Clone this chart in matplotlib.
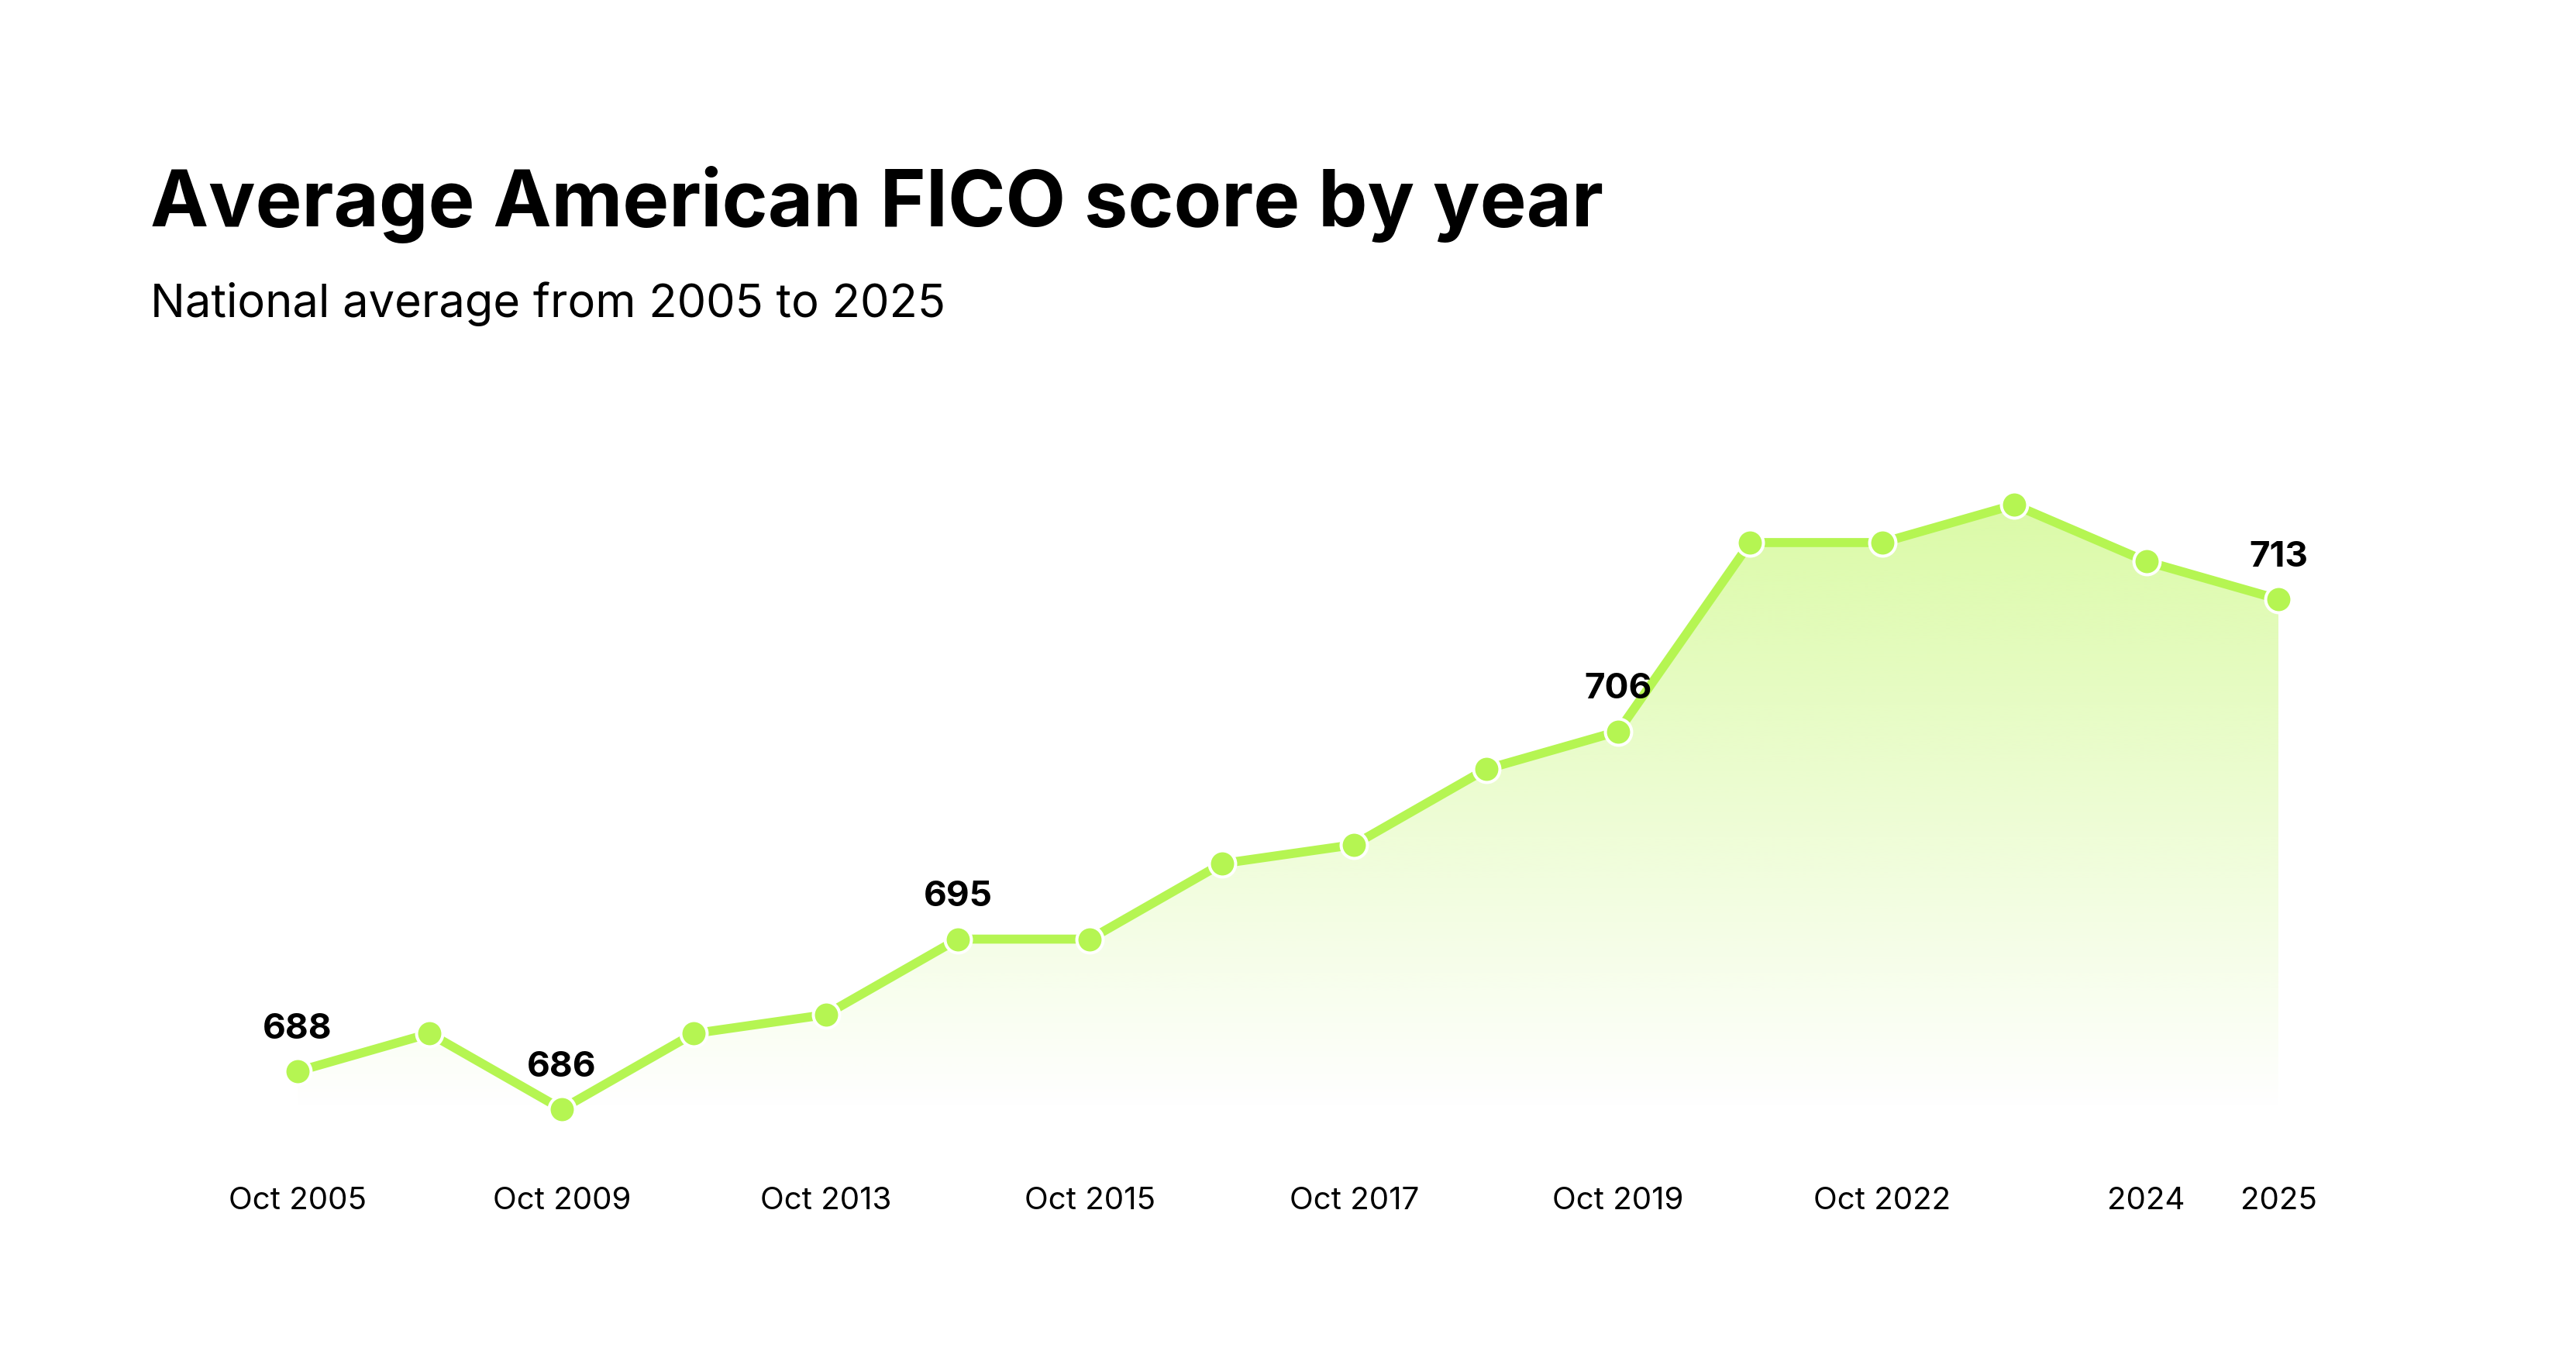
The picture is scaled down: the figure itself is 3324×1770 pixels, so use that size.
import matplotlib.pyplot as plt
import numpy as np
from matplotlib.colors import to_rgb

plt.rcParams['font.family'] = ['Inter', 'DejaVu Sans']

titulo = "Average American FICO score by year"
subtitulo = "National average from 2005 to 2025"

rotulos = ["Oct 2005", "", "Oct 2009", "", "Oct 2013", "", "Oct 2015", "",
           "Oct 2017", "", "Oct 2019", "", "Oct 2022", "", "2024", "2025"]
pontuacoes = [688, 690, 686, 690, 691, 695, 695, 699, 700, 704, 706, 716, 716, 718, 715, 713]
destaques = [0, 2, 5, 10, 15]

verde = '#b5f552'
verde_fundo = '#cff98a'

fig = plt.figure(figsize=(16.62, 8.85), dpi=200)
ax = fig.add_axes([0.1155, 0.1710, 0.8845 - 0.1155, 0.4886])

x = np.arange(len(pontuacoes))
y = np.array(pontuacoes)
base = y.min()

ax.set_xlim(0, len(pontuacoes) - 1)
ax.set_ylim(684.5, 720)

# gradiente da area
r, g, b = to_rgb(verde_fundo)
grad = np.zeros((256, 2, 4))
grad[:, :, 0] = r
grad[:, :, 1] = g
grad[:, :, 2] = b
grad[:, :, 3] = np.linspace(0.75, 0.0, 256)[:, None]
img = ax.imshow(grad, extent=[0, len(x) - 1, base, y.max()], aspect='auto',
                origin='upper', zorder=1, interpolation='bilinear')
poly = ax.fill_between(x, y, base, color='none', linewidth=0)
clip = poly.get_paths()[0]
img.set_clip_path(clip, transform=ax.transData)

ax.plot(x, y, color=verde, linewidth=4.2, zorder=3, solid_capstyle='round')
ax.plot(x, y, 'o', color=verde, markersize=12.2, markeredgecolor='white',
        markeredgewidth=1.44, zorder=4, clip_on=False)

for i in destaques:
    ax.annotate(str(pontuacoes[i]), (x[i], y[i]), xytext=(0, 19.5),
                textcoords='offset points', ha='center', va='center',
                fontsize=16.5, fontweight='bold', color='black', zorder=5)

ax.set_xticks(x)
ax.set_xticklabels(rotulos, fontsize=14.5)
ax.tick_params(axis='x', length=0, pad=23)
ax.set_yticks([])
for s in ax.spines.values():
    s.set_visible(False)
ax.patch.set_alpha(0)

t = fig.text(0.0584, 1 - 292 / 1770, titulo, fontsize=40, fontweight='bold',
             ha='left', va='baseline')
st = fig.text(0.0584, 1 - 409 / 1770, subtitulo, fontsize=21,
              ha='left', va='baseline')

# ajusta largura dos textos
fig.canvas.draw()
rend = fig.canvas.get_renderer()
for obj, alvo in [(t, 1877), (st, 1027)]:
    w = obj.get_window_extent(rend).width
    obj.set_fontsize(obj.get_fontsize() * alvo / w)

fig.savefig('out.png', dpi=200, facecolor='white')
plt.close()
